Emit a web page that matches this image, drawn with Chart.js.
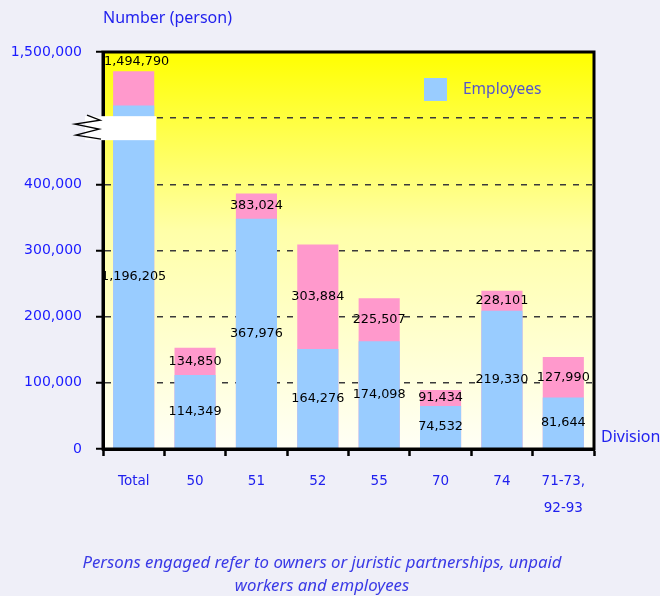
<!DOCTYPE html>
<html><head><meta charset="utf-8">
<script src="https://cdn.jsdelivr.net/npm/chart.js@4/dist/chart.umd.min.js"></script>
<style>html,body{margin:0;padding:0;background:#efeff8;overflow:hidden}canvas{display:block}</style>
</head><body>
<canvas id="c" width="660" height="596"></canvas>
<script>
// ---- data ----
const categories = ['Total', '50', '51', '52', '55', '70', '74', ['71-73,', '92-93']];
// values printed on the bars
const employees = [1196205, 114349, 367976, 164276, 174098, 74532, 219330, 81644];
const personsEngaged = [1494790, 134850, 383024, 303884, 225507, 91434, 228101, 127990];
// bar heights as drawn in the picture (the Total bar sits above a broken axis)
const employeesDrawn = [519000, 112000, 348000, 151000, 163000, 65000, 209000, 78000];
const personsEngagedDrawn = [571000, 153000, 386000, 309000, 228000, 89000, 239000, 139000];
// y tick labels for 0,100k,...,600k (the 600k position is labelled as the total's scale)
const yTickLabels = ['0', '100,000', '200,000', '300,000', '400,000', '', '1,500,000'];
const yAxisTitle = 'Number (person)';
const xAxisTitle = 'Division';
const legendLabel = 'Employees';
const footnote = ['Persons engaged refer to owners or juristic partnerships, unpaid', 'workers and employees'];

const fmt = n => n.toLocaleString('en-US');

const decor = {
  id: 'decor',
  beforeDraw(chart) {
    const {ctx, chartArea: a} = chart;
    const g = ctx.createLinearGradient(0, a.top, 0, a.bottom);
    g.addColorStop(0, '#ffff00');
    g.addColorStop(0.45, '#ffffa8');
    g.addColorStop(1, '#fffff6');
    ctx.save();
    ctx.fillStyle = g;
    ctx.fillRect(a.left, a.top, a.right - a.left, a.bottom - a.top);
    ctx.restore();
  },
  afterDatasetsDraw(chart) {
    const {ctx} = chart;
    const blue = chart.getDatasetMeta(0).data;
    const pink = chart.getDatasetMeta(1).data;
    ctx.save();
    ctx.fillStyle = '#000';
    ctx.font = '12.8px "DejaVu Sans"';
    ctx.textAlign = 'center';
    ctx.textBaseline = 'middle';
    blue.forEach((b, i) => {
      ctx.fillText(fmt(employees[i]), b.x, (b.y + b.base) / 2);
      const p = pink[i];
      if (i === 0) ctx.fillText(fmt(personsEngaged[i]), p.x + 3, p.y - 10);
      else ctx.fillText(fmt(personsEngaged[i]), p.x, (p.y + b.y) / 2);
    });
    ctx.restore();
  },
  afterDraw(chart) {
    const {ctx, chartArea: a} = chart;
    const y = chart.scales.y;
    const bar0 = chart.getDatasetMeta(0).data[0];
    ctx.save();
    // frame
    ctx.strokeStyle = '#000';
    ctx.lineWidth = 3;
    ctx.strokeRect(a.left, a.top, a.right - a.left, a.bottom - a.top);
    // axis break
    const yb = y.getPixelForValue(500000);
    const rx1 = a.left - 18, rx2 = bar0.x + bar0.width / 2 + 2;
    ctx.fillStyle = '#ffffff';
    ctx.fillRect(rx1, yb - 2, rx2 - rx1, 24);
    ctx.lineWidth = 1.4;
    ctx.beginPath();
    ctx.moveTo(a.left - 16, yb - 3);
    ctx.lineTo(a.left - 3, yb + 2);
    ctx.lineTo(a.left - 28, yb + 6);
    ctx.lineTo(a.left - 4, yb + 11);
    ctx.lineTo(a.left - 27, yb + 17);
    ctx.lineTo(a.left - 2, yb + 21);
    ctx.stroke();
    // titles
    ctx.fillStyle = '#2222ee';
    ctx.font = '16px "Noto Sans"';
    ctx.textBaseline = 'middle';
    ctx.textAlign = 'left';
    ctx.fillText(yAxisTitle, a.left, 18);
    ctx.fillText(xAxisTitle, a.right + 7, 437);
    // legend
    ctx.fillStyle = '#99ccff';
    ctx.fillRect(424, 78, 23, 23);
    ctx.fillStyle = '#5555cc';
    ctx.font = '15.5px "Noto Sans"';
    ctx.fillText(legendLabel, 463, 90);
    // footnote
    ctx.fillStyle = '#3a3ae6';
    ctx.font = 'italic 16.8px "Noto Sans"';
    ctx.textAlign = 'center';
    ctx.fillText(footnote[0], 322, 563);
    ctx.fillText(footnote[1], 322, 586);
    ctx.restore();
  }
};

new Chart(document.getElementById('c'), {
  type: 'bar',
  data: {
    labels: categories,
    datasets: [
      {label: legendLabel, data: employeesDrawn, backgroundColor: '#99ccff', grouped: false, order: 0,
       barPercentage: 0.67, categoryPercentage: 1},
      {label: 'Persons engaged', data: personsEngagedDrawn, backgroundColor: '#ff99cc', grouped: false, order: 1,
       barPercentage: 0.67, categoryPercentage: 1}
    ]
  },
  options: {
    responsive: false,
    animation: false,
    devicePixelRatio: 1,
    layout: {padding: {top: 52, right: 66, left: 0, bottom: 0}},
    plugins: {legend: {display: false}, tooltip: {enabled: false}},
    scales: {
      x: {
        grid: {offset: true, drawOnChartArea: false, drawTicks: true, tickLength: 7, tickColor: '#000', tickWidth: 2.5},
        border: {display: true, color: '#000', width: 3},
        ticks: {color: '#2020ee', font: {family: 'DejaVu Sans', size: 13.5, lineHeight: 2}, padding: 11.5,
                maxRotation: 0, autoSkip: false},
        afterFit(s) { s.height = 147; }
      },
      y: {
        min: 0, max: 600000,
        ticks: {stepSize: 100000, callback: v => yTickLabels[Math.round(v / 100000)],
                color: '#1a1aff', font: {family: 'DejaVu Sans', size: 14}, padding: 14},
        grid: {
          color: c => (c.tick && (c.tick.value === 0 || c.tick.value === 600000)) ? 'rgba(0,0,0,0)' : '#3a3a3a',
          lineWidth: 1.5, tickLength: 7, tickColor: '#000', tickWidth: 2
        },
        border: {color: '#000', width: 3, dash: [6, 7]},
        afterFit(s) { s.width = 103; }
      }
    }
  },
  plugins: [decor]
});
</script>
</body></html>
